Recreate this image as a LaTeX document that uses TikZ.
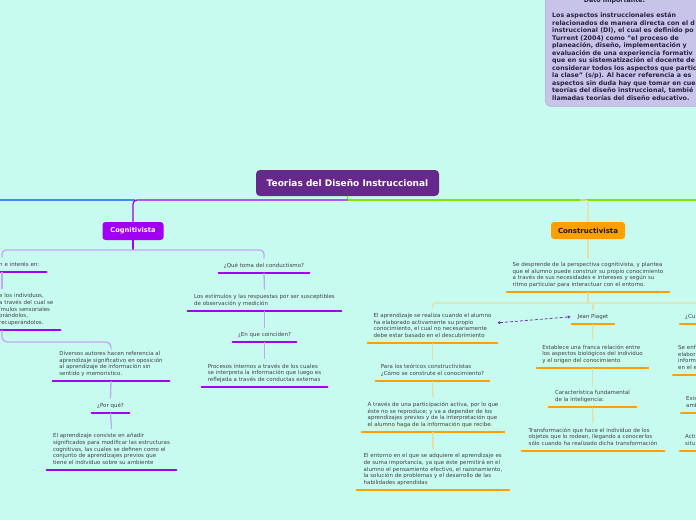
\documentclass[tikz,border=0pt]{standalone}
\usepackage{fontspec}
\usepackage{graphicx}
\setmainfont{DejaVu Sans}
\usetikzlibrary{arrows.meta}
\definecolor{bg}{RGB}{200,251,239}
\definecolor{ttl}{RGB}{103,40,140}
\definecolor{cogc}{RGB}{161,0,242}
\definecolor{conc}{RGB}{255,160,0}
\definecolor{lnpc}{RGB}{196,166,246}
\definecolor{lnoc}{RGB}{230,222,166}
\definecolor{bluec}{RGB}{60,140,245}
\definecolor{greenc}{RGB}{128,230,0}
\definecolor{notec}{RGB}{200,195,232}
\definecolor{noteb}{RGB}{180,172,220}
\definecolor{notet}{RGB}{40,34,62}
\definecolor{txtc}{RGB}{64,64,64}
\definecolor{dashc}{RGB}{118,56,172}
\newcommand{\dd}{\rule[-1.3pt]{0pt}{0pt}}
\newcommand{\notefnt}{\bfseries\fontsize{6.3}{7.5}\selectfont}
\tikzset{
  tbase/.style={font=\fontsize{5.5}{6.6}\selectfont, text=txtc, align=left, inner xsep=0pt, inner ysep=4.3pt},
  ulP/.style={draw=cogc, line width=2.6pt, line cap=round},
  ulO/.style={draw=conc, line width=2.6pt, line cap=round},
  tP/.style={tbase, anchor=south, append after command={(\tikzlastnode.south west) edge[ulP] (\tikzlastnode.south east)}},
  tO/.style={tbase, anchor=south, append after command={(\tikzlastnode.south west) edge[ulO] (\tikzlastnode.south east)}},
  tPe/.style={tbase, anchor=south west, append after command={(\tikzlastnode.south west) edge[ulP] (\tikzlastnode.south east)}},
  tOe/.style={tbase, anchor=south west, inner xsep=5pt, append after command={(\tikzlastnode.south west) edge[ulO] (\tikzlastnode.south east)}},
  lnP/.style={draw=lnpc, line width=1.3pt},
  lnO/.style={draw=lnoc, line width=1.3pt},
  ttlbox/.style={fill=ttl, text=white, font=\bfseries\fontsize{9}{10}\selectfont, rounded corners=4pt, minimum width=183, minimum height=26, inner sep=0pt},
  cogbox/.style={fill=cogc, text=white, font=\bfseries\fontsize{6.7}{7}\selectfont, rounded corners=3pt, minimum width=61, minimum height=18, inner sep=0pt},
  conbox/.style={fill=conc, text={rgb,255:red,30;green,20;blue,10}, font=\bfseries\fontsize{7}{7}\selectfont, rounded corners=3pt, minimum width=74, minimum height=17, inner sep=0pt},
  notebox/.style={fill=notec, draw=noteb, line width=0.6pt, rounded corners=5pt, inner sep=0pt},
  notehd/.style={text=notet, font=\notefnt, inner sep=0pt},
  notetx/.style={text=notet, font=\notefnt, inner sep=0pt},
  dashA/.style={draw=dashc, line width=0.8pt, dash pattern=on 3pt off 2pt, {Latex[length=3pt,width=3.5pt]}-{Latex[length=3pt,width=3.5pt]}}
}
\begin{document}
\begin{tikzpicture}[x=1pt,y=-1pt]
\useasboundingbox (0,0) rectangle (696,520);
\clip (0,0) rectangle (696,520);
\fill[bg] (0,0) rectangle (696,520);

% note panel
\node[notebox, anchor=north west, minimum width=170, minimum height=130] (note) at (545,-24) {};
\node[notehd, anchor=base] (notehd) at (614.5,2.5) {Dato importante:};
\node[notetx, anchor=north west] (notetx) at (552,12.3) {\renewcommand{\arraystretch}{1}\begin{tabular}{@{}l@{}}Los aspectos instruccionales están\\relacionados de manera directa con el d\\instruccional (DI), el cual es definido po\\Turrent (2004) como "el proceso de\\planeación, diseño, implementación y\\evaluación de una experiencia formativ\\que en su sistematización el docente de\\considerar todos los aspectos que partic\\la clase" (s/p). Al hacer referencia a es\\aspectos sin duda hay que tomar en cue\\teorías del diseño instruccional, tambié\\llamadas teorías del diseño educativo.\end{tabular}};

% main boxes
\node[ttlbox] (title) at (347.5,183) {Teorias del Diseño Instruccional};
\node[cogbox] (cog) at (133,231) {Cognitivista};
\node[conbox] (con) at (588,230.5) {Constructivista};

% top connectors
\draw[draw=bluec, line width=1.3pt] (135,200) -- (-5,200);
\draw[draw=greenc, line width=1.3pt] (title.south) -- (347.5,200) -- (700,200);
\draw[draw=cogc, line width=1.3pt, rounded corners=4pt] (347.5,200) -- (133,200) -- (cog.north);
\draw[lnO, rounded corners=3pt] (580,200) -- (588,200) -- (con.north);

% Cognitivista subtree
\node[tPe, text width=47] (n1) at (-1,272) {n e interés en:\dd};
\node[tPe, text width=61] (n2) at (-1,330) {e los individuos,\\a través del cual se\\ímulos sensoriales\\orándolos,\\recuperándolos.\dd};
\node[tP, minimum width=116] (dv) at (111,381) {Diversos autores hacen referencia al\\aprendizaje significativo en oposición\\al aprendizaje de información sin\\sentido y memorístico.\dd};
\node[tP, minimum width=37] (pq) at (110.5,413) {¿Por qué?\dd};
\node[tP, minimum width=129] (ad) at (111.5,470) {El aprendizaje consiste en añadir\\significados para modificar las estructuras\\cognitivas, las cuales se definen como el\\conjunto de aprendizajes previos que\\tiene el individuo sobre su ambiente\dd};
\node[tP, minimum width=90] (qt) at (264,273) {¿Qué toma del conductismo?\dd};
\node[tP, minimum width=153] (le) at (264.5,311) {Los estímulos y las respuestas por ser susceptibles\\de observación y medición\dd};
\node[tP, minimum width=63] (ec) at (264.5,342) {¿En que coinciden?\dd};
\node[tP, minimum width=125] (pi) at (264.5,387) {Procesos internos a través de los cuales\\se interpreta la información que luego es\\reflejada a través de conductas externas\dd};

\draw[draw=cogc, line width=1.3pt] (cog.south) -- (133,250);
\draw[lnP, rounded corners=4pt] ([xshift=3pt]n1.north west) -- (2,250) -- (264,250) -- (qt.north);
\draw[lnP] ([xshift=3pt]n1.south west) -- ([xshift=3pt]n2.north west);
\draw[lnP, rounded corners=5pt] ([xshift=3pt]n2.south west) -- (2,342) -- (111,342) -- (dv.north);
\draw[lnP] (dv.south) -- (pq.north);
\draw[lnP] (pq.south) -- (ad.north);
\draw[lnP] (qt.south) -- (le.north);
\draw[lnP] (le.south) -- (ec.north);
\draw[lnP] (ec.south) -- (pi.north);

% Constructivista subtree
\node[tO, minimum width=162] (sd) at (588,292) {Se desprende de la perspectiva cognitivista, y plantea\\que el alumno puede construir su propio conocimiento\\a través de sus necesidades e intereses y según su\\ritmo particular para interactuar con el entorno.\dd};
\node[tO, minimum width=129] (ea) at (432.5,343) {El aprendizaje se realiza cuando el alumno\\ha elaborado activamente su propio\\conocimiento, el cual no necesariamente\\debe estar basado en el descubrimiento\dd};
\node[tO, minimum width=113] (pt) at (432.5,381) {Para los teóricos constructivistas\\¿Cómo se construte el conocimiento?\dd};
\node[tO, minimum width=142] (at) at (433,432) {A través de una participación activa, por lo que\\éste no se reproduce; y va a depender de los\\aprendizajes previos y de la interpretación que\\el alumno haga de la información que recibe.\dd};
\node[tO, minimum width=152] (en) at (433,490) {El entorno en el que se adquiere el aprendizaje es\\de suma importancia, ya que éste permitirá en el\\alumno el pensamiento efectivo, el razonamiento,\\la solución de problemas y el desarrollo de las\\habilidades aprendidas\dd};
\node[tO, minimum width=42] (jp) at (593,324) {Jean Piaget\dd};
\node[tO, minimum width=111] (es) at (592.5,368) {Establece una franca relación entre\\los aspectos biológicos del individuo\\y el origen del conocimiento\dd};
\node[tO, minimum width=87] (ca) at (592.5,407) {Característica fundamental\\de la inteligencia:\dd};
\node[tO, minimum width=142] (tr) at (593,451) {Transformación que hace el individuo de los\\objetos que lo rodean, llegando a conocerlos\\sólo cuando ha realizado dicha transformación\dd};
\node[tOe, text width=30] (cu) at (680,324) {¿Cu\dd};
\node[tOe, text width=30] (se) at (673,375) {Se enf\\elabora\\informa\\en el e\dd};
\node[tOe, text width=30] (ex) at (681,413) {Exis\\amb\dd};
\node[tOe, text width=30] (ac) at (680,451) {Acti\\situ\dd};

\draw[lnO] (con.south) -- (sd.north);
\draw[lnO] (sd.south) -- (588,303);
\draw[lnO, rounded corners=3pt] (ea.north) -- (432.5,303) -- (700,303);
\draw[lnO] (593,303) -- (jp.north);
\draw[lnO] (ea.south) -- (pt.north);
\draw[lnO] (pt.south) -- (at.north);
\draw[lnO] (at.south) -- (en.north);
\draw[lnO] (jp.south) -- (es.north);
\draw[lnO] (es.south) -- (ca.north);
\draw[lnO] (ca.south) -- (tr.north);

\draw[dashA] ([yshift=3pt]ea.east) -- ([xshift=-1pt]jp.west);
\end{tikzpicture}
\end{document}
